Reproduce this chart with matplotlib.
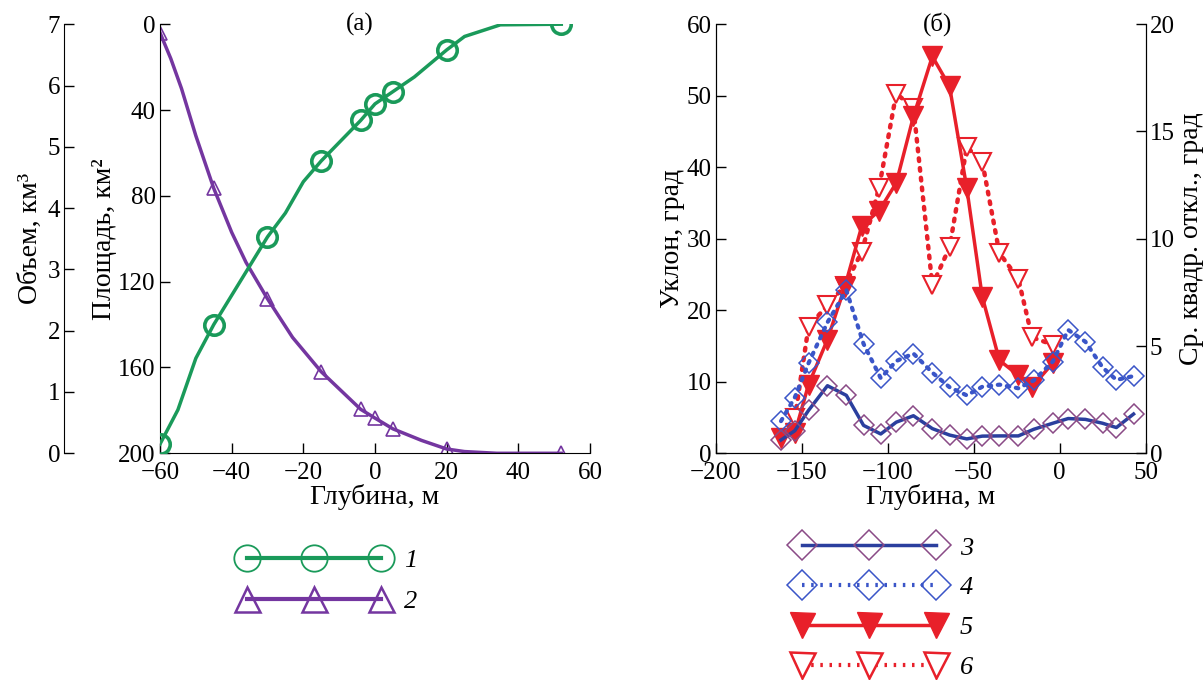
import numpy as np
import matplotlib
matplotlib.use("Agg")
import matplotlib.pyplot as plt
from matplotlib.lines import Line2D

plt.rcParams['font.family'] = ['Liberation Serif', 'DejaVu Serif']
plt.rcParams['font.size'] = 18

# --- panel (a): volume and area vs depth
depth_vol = [-60, -55, -50, -45, -30, -25, -20, -15, -4, 0, 5, 11, 20, 25, 35, 52]
vol_line = [0.15, 0.71, 1.55, 2.10, 3.53, 3.92, 4.43, 4.77, 5.43, 5.70, 5.90, 6.14, 6.58, 6.80, 6.99, 7.0]
depth_vol_mk = [-60, -45, -30, -15, -4, 0, 5, 20, 52]
vol_mk = [0.15, 2.10, 3.53, 4.77, 5.43, 5.70, 5.90, 6.58, 7.0]

depth_area = [-60, -57, -54, -50, -45, -40, -36, -30, -23, -15, -4, 0, 5, 13, 20, 25, 34, 52]
area_line = [4, 16, 30, 52, 76.5, 97, 111, 128, 146, 162, 179.5, 183.6, 188.6, 194, 198, 199.2, 200, 200]
depth_area_mk = [-60, -45, -30, -15, -4, 0, 5, 20, 52]
area_mk = [4, 76.5, 128, 162, 179.5, 183.6, 188.6, 198, 199.7]

# --- panel (б): slope (left axis) and rms deviation (right axis)
depth_red = [-162, -154, -146, -135, -125, -115, -105, -95, -85, -74, -64, -54, -45, -35, -24, -16, -4]
slope5 = [2.2, 2.8, 9.6, 15.9, 23.2, 31.8, 33.9, 37.8, 47.1, 55.5, 51.3, 37.1, 21.9, 13.0, 10.9, 9.3, 12.6]
depth_red6 = depth_red[1:]
slope6 = [4.9, 17.7, 20.7, 23.4, 28.2, 37.1, 50.3, 48.3, 23.5, 28.8, 42.8, 40.8, 28.0, 24.4, 16.2, 15.2]

depth_blue = [-162, -154, -146, -135, -124, -114, -104, -95, -85, -74, -64, -54, -45, -35, -24, -15, -4, 5, 15, 25, 33, 43]
rms3 = [0.62, 1.05, 2.0, 3.15, 2.7, 1.3, 0.9, 1.45, 1.75, 1.15, 0.85, 0.67, 0.8, 0.81, 0.81, 1.12, 1.4, 1.62, 1.58, 1.4, 1.2, 1.83]
rms4 = [1.5, 2.6, 4.2, 6.1, 7.6, 5.1, 3.5, 4.3, 4.65, 3.76, 3.08, 2.7, 3.1, 3.2, 3.03, 3.4, 4.27, 5.75, 5.2, 4.0, 3.42, 3.6]

green = '#1a9a5a'
purple = '#7436a0'
red = '#e8202a'
blue_line = '#2b3f9e'
blue_mk = '#3a55c8'
mauve = '#8a4a86'
dots = (0, (0.6, 1.6))

fig = plt.figure(figsize=(12.04, 6.8), dpi=100)

# left panel
ax_a = fig.add_axes([0.1329, 0.3334, 0.3571, 0.631])
ax_v = ax_a.twinx()

ax_v.plot(depth_vol, vol_line, color=green, lw=2.5, zorder=3)
ax_v.plot(depth_vol_mk, vol_mk, ls='none', marker='o', ms=14, mfc='none', mec=green, mew=2.6, zorder=4)
ax_a.plot(depth_area, area_line, color=purple, lw=2.5)
ax_a.plot(depth_area_mk, area_mk, ls='none', marker='^', ms=10, mfc='none', mec=purple, mew=1.2)

ax_a.set_xlim(-60, 60)
ax_a.set_ylim(200, 0)
ax_a.set_yticks([0, 40, 80, 120, 160, 200])
ax_a.set_xticks([-60, -40, -20, 0, 20, 40, 60])
ax_v.set_ylim(0, 7)
ax_v.set_yticks(range(8))
ax_v.yaxis.tick_left()
ax_v.yaxis.set_label_position('left')
ax_v.spines['left'].set_position(('outward', 69))
for s in ['top', 'right']:
    ax_a.spines[s].set_visible(False)
    ax_v.spines[s].set_visible(False)
ax_v.spines['bottom'].set_visible(False)
for ax in (ax_a, ax_v):
    ax.tick_params(direction='in', length=7, width=1, pad=3, labelsize=18)
ax_a.tick_params(axis='x', pad=6)
ax_a.set_ylabel('Площадь, км²', fontsize=20, labelpad=1)
ax_v.set_ylabel('Объем, км³', fontsize=20, labelpad=3)
ax_a.set_xlabel('Глубина, м', fontsize=20, labelpad=0)
ax_a.text(0.465, 1.0, '(а)', transform=ax_a.transAxes, ha='center', va='center', fontsize=18)

# right panel
ax_s = fig.add_axes([0.5944, 0.3334, 0.3571, 0.631])
ax_r = ax_s.twinx()
ax_s.plot(depth_red6, slope6, color=red, lw=3.2, ls=dots, dash_capstyle='round',
          marker='v', ms=13, mfc='white', mec=red, mew=1.5, zorder=3)
ax_s.plot(depth_red, slope5, color=red, lw=2.5, marker='v', ms=14, mfc=red, mec=red, zorder=4)
ax_r.plot(depth_blue, rms4, color=blue_mk, lw=3, ls=dots, dash_capstyle='round',
          marker='D', ms=10, mfc='none', mec=blue_mk, mew=1.1)
ax_r.plot(depth_blue, rms3, color=blue_line, lw=2.5)
ax_r.plot(depth_blue, rms3, ls='none', marker='D', ms=10, mfc='none', mec=mauve, mew=1.1)

ax_s.set_xlim(-200, 50)
ax_s.set_ylim(0, 60)
ax_r.set_ylim(0, 20)
ax_s.set_xticks([-200, -150, -100, -50, 0, 50])
ax_s.set_yticks(range(0, 61, 10))
ax_r.set_yticks([0, 5, 10, 15, 20])
ax_s.spines['top'].set_visible(False)
ax_r.spines['top'].set_visible(False)
for ax in (ax_s, ax_r):
    ax.tick_params(direction='in', length=7, width=1, pad=3, labelsize=18)
ax_s.tick_params(axis='x', pad=6)
ax_s.set_ylabel('Уклон, град', fontsize=20, labelpad=1)
ax_r.set_ylabel('Ср. квадр. откл., град', fontsize=20, labelpad=3)
ax_s.set_xlabel('Глубина, м', fontsize=20, labelpad=0)
ax_s.text(0.515, 1.0, '(б)', transform=ax_s.transAxes, ha='center', va='center', fontsize=18)

# legends
h1 = [Line2D([], [], color=green, lw=3, marker='o', ms=19, mfc='none', mec=green, mew=1.3),
      Line2D([], [], color=purple, lw=3, marker='^', ms=18, mfc='none', mec=purple, mew=1.8)]
leg1 = fig.legend(h1, ['1', '2'], loc='upper left', bbox_to_anchor=(0.1785, 0.228), frameon=False,
                  numpoints=3, handlelength=5.68, labelspacing=0.67, handletextpad=0.6,
                  prop={'family': 'Liberation Serif', 'style': 'italic', 'size': 19})
h2 = [Line2D([], [], color=blue_line, lw=2.5, marker='D', ms=15, mfc='none', mec=mauve, mew=1.1),
      Line2D([], [], color=blue_mk, lw=3, ls=dots, marker='D', ms=15, mfc='none', mec=blue_mk, mew=1.1),
      Line2D([], [], color=red, lw=2.5, marker='v', ms=18, mfc=red, mec=red),
      Line2D([], [], color=red, lw=3, ls=dots, marker='v', ms=18, mfc='white', mec=red, mew=1.8)]
leg2 = fig.legend(h2, ['3', '4', '5', '6'], loc='upper left', bbox_to_anchor=(0.64, 0.2465), frameon=False,
                  numpoints=3, handlelength=5.68, labelspacing=0.62, handletextpad=0.6,
                  prop={'family': 'Liberation Serif', 'style': 'italic', 'size': 19})

fig.savefig('out.png', dpi=100)
